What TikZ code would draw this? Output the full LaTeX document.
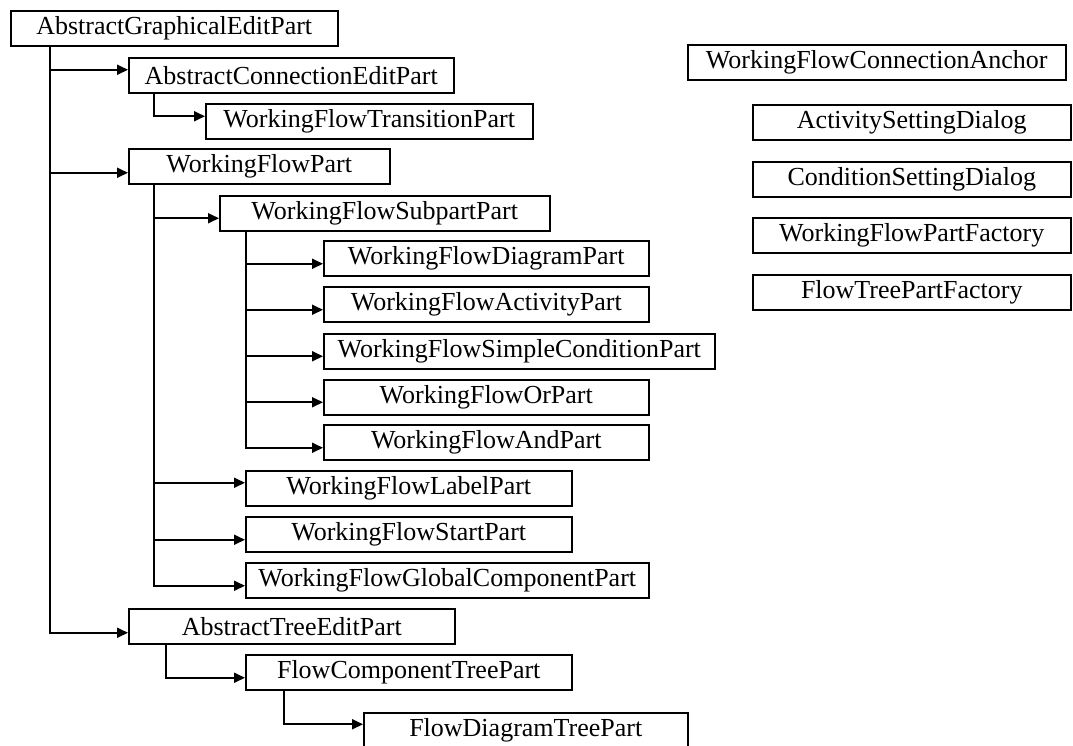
\documentclass[tikz,border=0pt]{standalone}
\usepackage{fontspec}
\setmainfont{Liberation Serif}
\usepackage{tikz}
\usetikzlibrary{arrows.meta}
\tikzstyle{classbox}=[rectangle,draw=black,line width=1.5pt,fill=white,anchor=north west,inner sep=0pt,font=\fontsize{26}{30}\selectfont]
\tikzstyle{edge} = [draw,line width=1.8pt,-{Triangle[length=11pt,width=10pt]}]

\begin{document}
\begin{tikzpicture}[x=1pt,y=-1pt]

 \useasboundingbox (0,0) rectangle (1073,745);

 %Main tree
 \def\h{35};

   \foreach \x/\y/\w/\name/\label in {10/10/327/agep/AbstractGraphicalEditPart, 128/57/325/acep/AbstractConnectionEditPart, 205/103/327/wftp/WorkingFlowTransitionPart, 128/148/261/wfp/WorkingFlowPart, 219/195/330/wfsp/WorkingFlowSubpartPart}
          \node[classbox,minimum width=\w pt,minimum height=\h pt] (\name) at (\x,\y) {\label};

   \foreach \x/\y/\w/\name/\label in {323/240/325/wfdp/WorkingFlowDiagramPart, 323/286/325/wfacp/WorkingFlowActivityPart, 323/333/391/wfscp/WorkingFlowSimpleConditionPart, 323/379/325/wforp/WorkingFlowOrPart, 323/424/325/wfandp/WorkingFlowAndPart}
          \node[classbox,minimum width=\w pt,minimum height=\h pt] (\name) at (\x,\y) {\label};

   \foreach \x/\y/\w/\name/\label in {245/470/326/wflp/WorkingFlowLabelPart, 245/516/326/wfstp/WorkingFlowStartPart, 245/562/403/wfgcp/WorkingFlowGlobalComponentPart, 128/608/326/atep/AbstractTreeEditPart, 245/654/326/fctp/FlowComponentTreePart, 363/712/324/fdtp/FlowDiagramTreePart}
          \node[classbox,minimum width=\w pt,minimum height=\h pt] (\name) at (\x,\y) {\label};

  \foreach \source/ \dest /\dx/\dy in {agep/acep/40/5.5, acep/wftp/26/5, agep/wfp/40/-6.5, wfp/wfsp/26/-5}
         \path[edge] ([xshift=\dx pt]\source.south west) |- ([yshift=\dy pt]\dest.west);

  \foreach \source/ \dest /\dx/\dy in {wfsp/wfdp/27/-5.5, wfsp/wfacp/27/-5.5, wfsp/wfscp/27/-5, wfsp/wforp/27/-5, wfsp/wfandp/27/-5.5}
         \path[edge] ([xshift=\dx pt]\source.south west) |- ([yshift=\dy pt]\dest.west);

  \foreach \source/ \dest /\dx/\dy in {wfp/wflp/26/5.5, wfp/wfstp/26/-5.5, wfp/wfgcp/26/-5.5, agep/atep/40/-6.5, atep/fctp/38/-5.5, fctp/fdtp/39/6}
         \path[edge] ([xshift=\dx pt]\source.south west) |- ([yshift=\dy pt]\dest.west);

 %Right column
   \foreach \x/\y/\w/\name/\label in {687/44/378/wfca/WorkingFlowConnectionAnchor, 752/104/318/asd/ActivitySettingDialog, 752/161/318/csd/ConditionSettingDialog, 752/217/318/wfpf/WorkingFlowPartFactory, 752/274/318/ftpf/FlowTreePartFactory}
          \node[classbox,minimum width=\w pt,minimum height=\h pt] (\name) at (\x,\y) {\label};

   \end{tikzpicture}
\end{document}
